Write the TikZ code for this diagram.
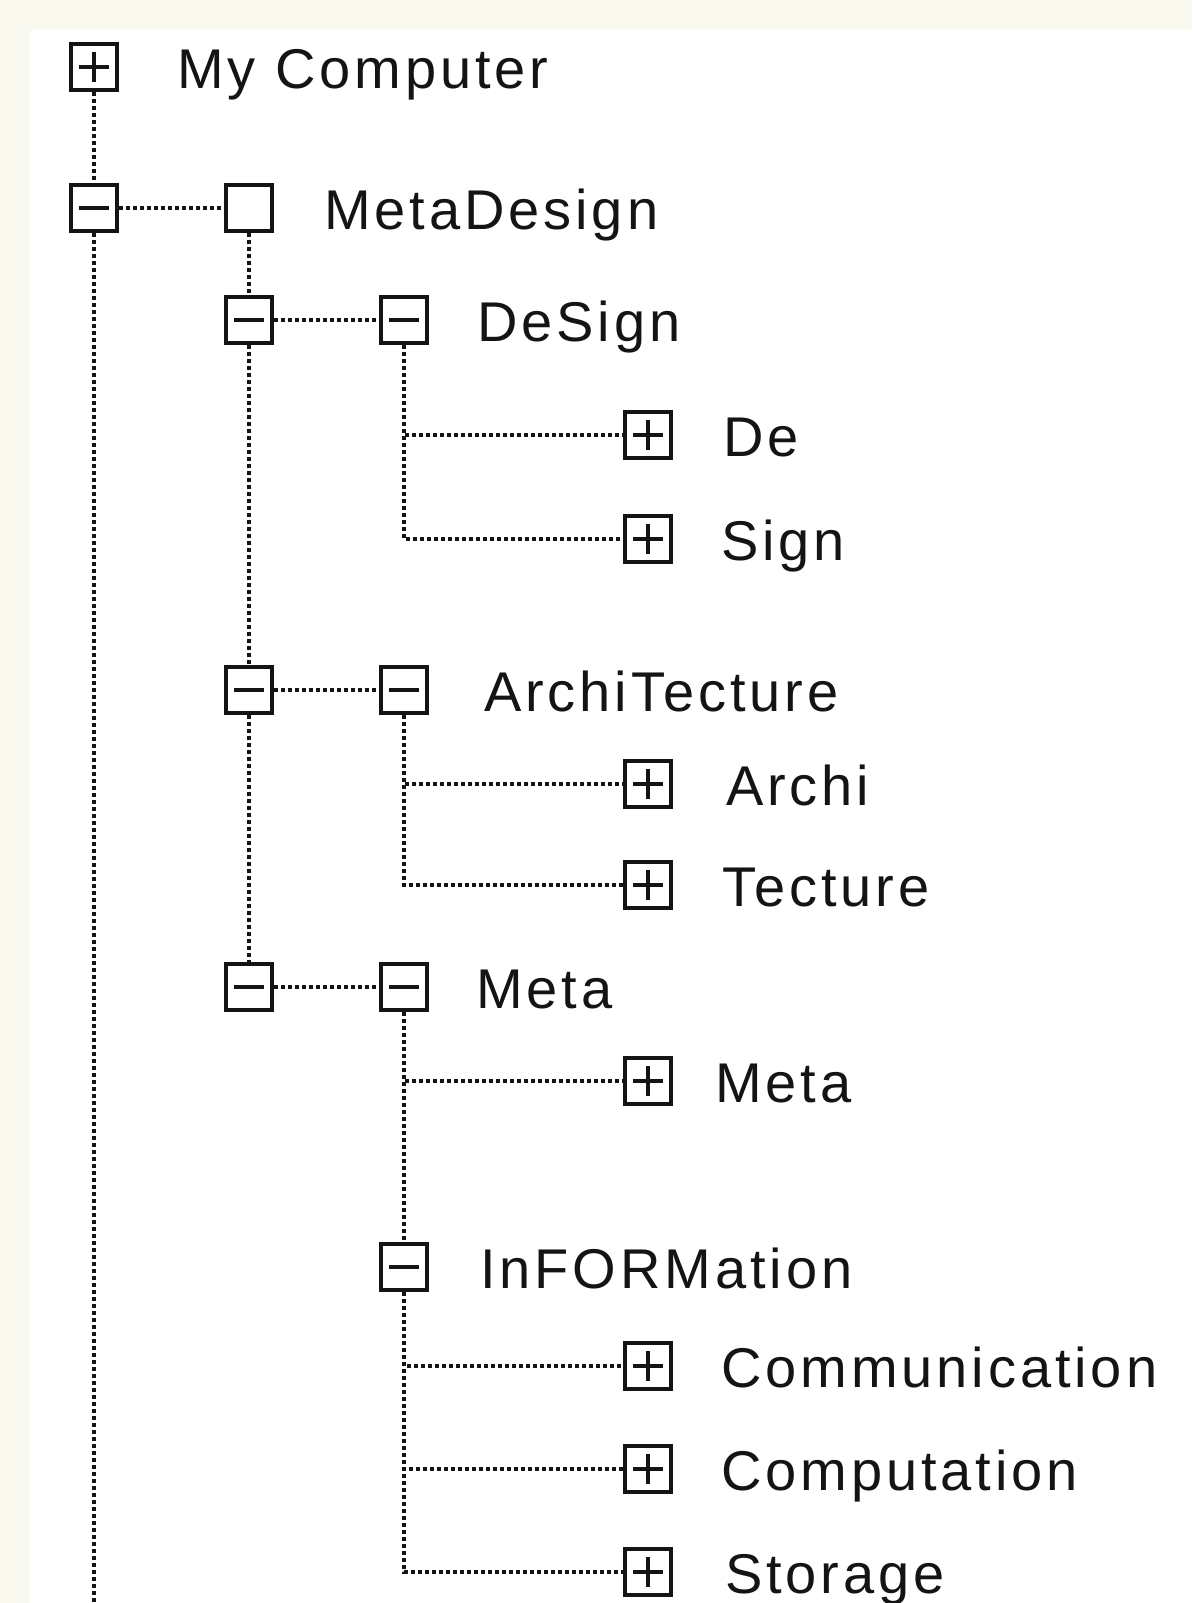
\documentclass[tikz,border=0pt]{standalone}
\usepackage{fontspec}
\setmainfont{Liberation Sans}[LetterSpace=7]
\definecolor{cream}{RGB}{249,249,240}
\definecolor{ink}{RGB}{20,20,20}
\begin{document}
\begin{tikzpicture}[x=1pt,y=-1pt,
  tbox/.style={draw=ink, line width=4pt, minimum width=46pt, minimum height=46pt, inner sep=0pt, fill=white},
  plusbox/.style={tbox, path picture={\draw[ink,line width=3.2pt] ([xshift=-15pt]path picture bounding box.center) -- ([xshift=15pt]path picture bounding box.center) ([yshift=-15pt]path picture bounding box.center) -- ([yshift=15pt]path picture bounding box.center);}},
  minusbox/.style={tbox, path picture={\draw[ink,line width=3.2pt] ([xshift=-15pt]path picture bounding box.center) -- ([xshift=15pt]path picture bounding box.center);}},
  lbl/.style={anchor=base west, inner sep=0pt, text=ink, font=\fontsize{56}{60}\selectfont},
  conn/.style={draw=ink, line width=3.6pt, dash pattern=on 3.8pt off 3.2pt}
]
\fill[white] (0,0) rectangle (1192,1603);
\fill[cream] (0,0) rectangle (1192,30);
\fill[cream] (0,0) rectangle (30,1603);
\useasboundingbox (0,0) rectangle (1192,1603);

% boxes
\node[plusbox]  (b0)  at (94,67) {};
\node[minusbox] (b1)  at (94,208) {};
\node[tbox]     (b2)  at (249,208) {};
\node[minusbox] (b3)  at (249,320) {};
\node[minusbox] (b4)  at (404,320) {};
\node[plusbox]  (b5)  at (648,435) {};
\node[plusbox]  (b6)  at (648,539) {};
\node[minusbox] (b7)  at (249,690) {};
\node[minusbox] (b8)  at (404,690) {};
\node[plusbox]  (b9)  at (648,784) {};
\node[plusbox]  (b10) at (648,885) {};
\node[minusbox] (b11) at (249,987) {};
\node[minusbox] (b12) at (404,987) {};
\node[plusbox]  (b13) at (648,1081) {};
\node[minusbox] (b14) at (404,1267) {};
\node[plusbox]  (b15) at (648,1366) {};
\node[plusbox]  (b16) at (648,1469) {};
\node[plusbox]  (b17) at (648,1572) {};
\coordinate (bot) at (94,1603);

% labels
\node[lbl] (t0)  at (177,88.5)   {My Computer};
\node[lbl] (t1)  at (324,229.5)  {MetaDesign};
\node[lbl] (t2)  at (477,341.5)  {DeSign};
\node[lbl] (t3)  at (723,456.5)  {De};
\node[lbl] (t4)  at (721,560.5)  {Sign};
\node[lbl] (t5)  at (484,711.5)  {ArchiTecture};
\node[lbl] (t6)  at (726,805.5)  {Archi};
\node[lbl] (t7)  at (722,906.5)  {Tecture};
\node[lbl] (t8)  at (476,1008.5) {Meta};
\node[lbl] (t9)  at (715,1102.5) {Meta};
\node[lbl] (t10) at (480,1288.5) {InFORMation};
\node[lbl] (t11) at (721,1387.5) {Communication};
\node[lbl] (t12) at (721,1490.5) {Computation};
\node[lbl] (t13) at (725,1593.5) {Storage};

% connectors
\draw[conn] (b0.south) -- (b1.north);
\draw[conn] (b1.south) -- (bot);
\draw[conn] (b1.east) -- (b2.west);
\draw[conn] (b2.south) -- (b3.north);
\draw[conn] (b3.south) -- (b7.north);
\draw[conn] (b7.south) -- (b11.north);
\draw[conn] (b3.east) -- (b4.west);
\draw[conn] (b7.east) -- (b8.west);
\draw[conn] (b11.east) -- (b12.west);
\draw[conn] (b4.south) |- (b5.west);
\draw[conn] (b4.south) |- (b6.west);
\draw[conn] (b8.south) |- (b9.west);
\draw[conn] (b8.south) |- (b10.west);
\draw[conn] (b12.south) |- (b13.west);
\draw[conn] (b12.south) -- (b14.north);
\draw[conn] (b14.south) |- (b15.west);
\draw[conn] (b14.south) |- (b16.west);
\draw[conn] (b14.south) |- (b17.west);
\end{tikzpicture}
\end{document}
